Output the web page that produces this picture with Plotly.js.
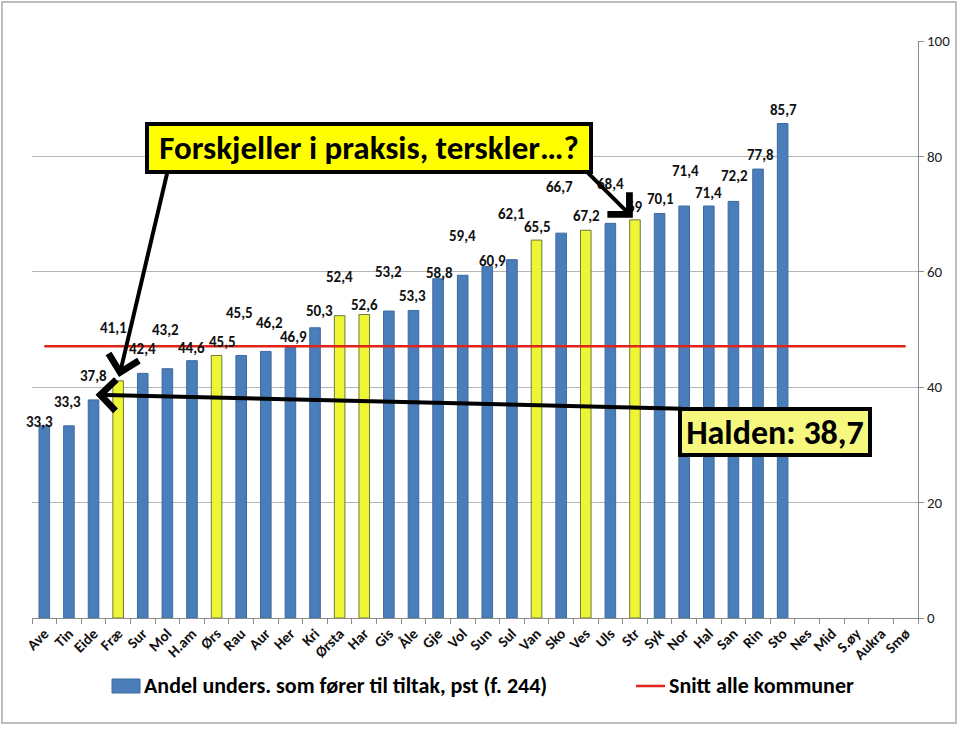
<!DOCTYPE html>
<html>
<head>
<meta charset="utf-8">
<script src="https://cdn.plot.ly/plotly-3.0.1.min.js"></script>
<style>
  html, body { margin: 0; padding: 0; background: #ffffff; }
  #plot { width: 960px; height: 729px; }
</style>
</head>
<body>
<div id="plot"></div>
<script>
// kommuner along the x axis (the last five have no bar)
const kommuner = ['Ave', 'Tin', 'Eide', 'Fræ', 'Sur', 'Mol', 'H.am', 'Ørs', 'Rau', 'Aur', 'Her', 'Kri',
  'Ørsta', 'Har', 'Gis', 'Åle', 'Gje', 'Vol', 'Sun', 'Sul', 'Van', 'Sko', 'Ves', 'Uls', 'Str', 'Syk',
  'Nor', 'Hal', 'San', 'Rin', 'Sto', 'Nes', 'Mid', 'S.øy', 'Aukra', 'Smø'];

// Andel undersøkelser som fører til tiltak, pst (f. 244)
const andel = [33.3, 33.3, 37.8, 41.1, 42.4, 43.2, 44.6, 45.5, 45.5, 46.2, 46.9, 50.3,
  52.4, 52.6, 53.2, 53.3, 58.8, 59.4, 60.9, 62.1, 65.5, 66.7, 67.2, 68.4, 69, 70.1,
  71.4, 71.4, 72.2, 77.8, 85.7];

const utheva = ['Fræ', 'Ørs', 'Ørsta', 'Har', 'Van', 'Ves', 'Str'];

const snitt = 47.1;
const halden = 38.7;

const yTicks = [0, 20, 40, 60, 80, 100];

const serieNavn = 'Andel unders. som fører til tiltak, pst (f. 244)';
const snittNavn = 'Snitt alle kommuner';

// hand-placed label offsets (px) as in the original sheet: [dx, dy up]
const labelShift = [[-5, 4], [-1, 24], [0, 24], [-5, 53], [0, 24], [-2, 39], [0, 13], [6, 13],
  [-2, 42], [4, 28], [3, 10], [4, 17], [0, 39], [0, 10], [0, 39], [-1, 14], [1, 6], [0, 39],
  [5, 6], [0, 46], [1, 13], [-2, 46], [1, 14], [0, 39], [0, 13], [1, 15], [1, 35], [0, 13],
  [1, 25], [2, 14], [1, 14]];

const FONT = 'Carlito, Lato, "Open Sans", sans-serif';
const W = 960, H = 729;
const M = { l: 32, r: 42, t: 41, b: 111 };

// pixel -> paper helpers for the free-floating boxes and the legend
const px = v => (v - M.l) / (W - M.l - M.r);
const py = v => (H - M.b - v) / (H - M.t - M.b);

const fmt = v => String(v).replace('.', ',');

const barX = kommuner.slice(0, andel.length);
const fill = barX.map(k => utheva.includes(k) ? '#eef534' : '#4a7ebb');
const edge = barX.map(k => utheva.includes(k) ? '#6b7a3c' : '#3d6a9e');

const traces = [
  {
    x: barX,
    y: andel,
    type: 'bar',
    name: serieNavn,
    marker: { color: fill, line: { color: edge, width: 1 } },
    hoverinfo: 'x+y'
  },
  {
    x: kommuner,
    y: kommuner.map(() => snitt),
    type: 'scatter',
    mode: 'lines',
    name: snittNavn,
    line: { color: '#e2231a', width: 2.5 }
  }
];

const annotations = andel.map((v, i) => ({
  x: barX[i],
  y: v,
  text: '<b>' + fmt(v) + '</b>',
  showarrow: false,
  xshift: labelShift[i][0],
  yshift: labelShift[i][1],
  font: { family: FONT, size: 15, color: '#111111' }
}));

// arrows first so the boxes sit on top of their tails
const arrow = { text: '', showarrow: true, arrowhead: 4, arrowsize: 1.5, arrowwidth: 4, arrowcolor: '#000000' };
annotations.push(Object.assign({ x: 'Fræ', y: 41.1, ax: 50, ay: -212, standoff: 4 }, arrow));
annotations.push(Object.assign({ x: 'Str', y: 69, ax: -50, ay: -50, standoff: 3 }, arrow));
annotations.push(Object.assign({ x: 'Eide', y: halden, ax: 590, ay: 14, standoff: 2 }, arrow));

// title box
annotations.push({
  xref: 'paper', yref: 'paper',
  x: px(369), y: py(148), xanchor: 'center', yanchor: 'middle',
  text: '<b>Forskjeller i praksis, terskler…?</b>',
  showarrow: false,
  width: 434, height: 38,
  bgcolor: '#ffff00', bordercolor: '#000000', borderwidth: 4, borderpad: 3,
  font: { family: FONT, size: 33, color: '#000000' }
});

// Halden box
annotations.push({
  xref: 'paper', yref: 'paper',
  x: px(775), y: py(432), xanchor: 'center', yanchor: 'middle',
  text: '<b>Halden: ' + fmt(halden) + '</b>',
  showarrow: false,
  width: 180, height: 36,
  bgcolor: '#f5f77f', bordercolor: '#000000', borderwidth: 4, borderpad: 3,
  font: { family: FONT, size: 34, color: '#000000' }
});

// legend texts
annotations.push({
  xref: 'paper', yref: 'paper', x: px(142), y: py(686), xanchor: 'left', yanchor: 'middle',
  text: '<b>' + serieNavn + '</b>', showarrow: false,
  font: { family: FONT, size: 22, color: '#000000' }
});
annotations.push({
  xref: 'paper', yref: 'paper', x: px(667), y: py(686), xanchor: 'left', yanchor: 'middle',
  text: '<b>' + snittNavn + '</b>', showarrow: false,
  font: { family: FONT, size: 22, color: '#000000' }
});

const layout = {
  width: W,
  height: H,
  margin: M,
  paper_bgcolor: '#ffffff',
  plot_bgcolor: '#ffffff',
  font: { family: FONT, size: 15, color: '#222222' },
  bargap: 0.57,
  showlegend: false,
  xaxis: {
    type: 'category',
    categoryorder: 'array',
    categoryarray: kommuner,
    range: [-0.5, kommuner.length - 0.5],
    tickangle: -45,
    tickson: 'boundaries',
    ticks: 'outside',
    ticklen: 5,
    tickcolor: '#8c8c8c',
    showline: true,
    linecolor: '#8c8c8c',
    linewidth: 1,
    showgrid: false,
    automargin: false,
    tickfont: { family: FONT, size: 15, color: '#111111', weight: 'bold' },
    fixedrange: true
  },
  yaxis: {
    side: 'right',
    range: [0, 100],
    tickvals: yTicks,
    ticks: 'outside',
    ticklen: 5,
    tickcolor: '#8c8c8c',
    showline: true,
    linecolor: '#8c8c8c',
    gridcolor: '#b5b5b5',
    gridwidth: 1,
    zeroline: false,
    automargin: false,
    tickfont: { family: FONT, size: 15, color: '#222222' },
    fixedrange: true
  },
  annotations: annotations,
  shapes: [
    {
      type: 'rect', xref: 'paper', yref: 'paper',
      x0: px(2), x1: px(956), y0: py(723), y1: py(2),
      line: { color: '#bdbdbd', width: 2 },
      layer: 'below'
    },
    // legend keys
    {
      type: 'rect', xref: 'paper', yref: 'paper',
      x0: px(112), x1: px(140), y0: py(693), y1: py(679),
      fillcolor: '#4a7ebb', line: { color: '#3d6a9e', width: 1 }
    },
    {
      type: 'line', xref: 'paper', yref: 'paper',
      x0: px(636), x1: px(665), y0: py(686), y1: py(686),
      line: { color: '#e2231a', width: 2.5 }
    }
  ]
};

Plotly.newPlot('plot', traces, layout, { displayModeBar: false, staticPlot: true });
</script>
</body>
</html>
